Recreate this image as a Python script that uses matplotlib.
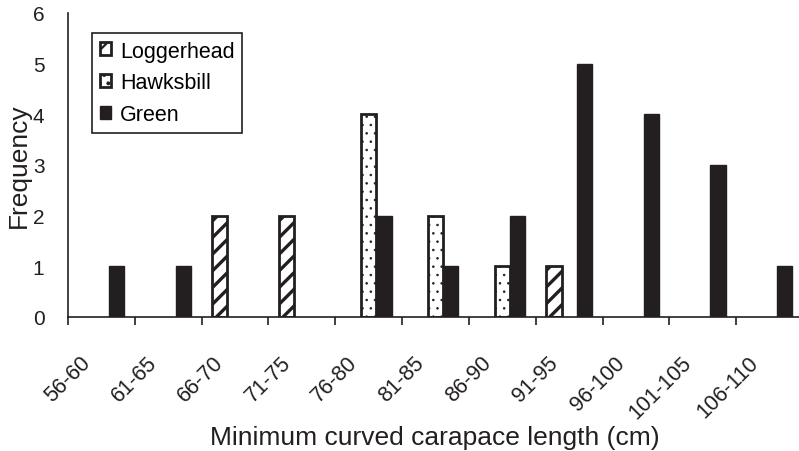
import numpy as np
import matplotlib
matplotlib.use('Agg')
import matplotlib.pyplot as plt
from matplotlib.transforms import ScaledTranslation

plt.rcParams['font.family'] = ['Liberation Sans', 'DejaVu Sans']

categories = ['56-60', '61-65', '66-70', '71-75', '76-80', '81-85',
              '86-90', '91-95', '96-100', '101-105', '106-110']
loggerhead = np.array([0, 0, 2, 2, 0, 0, 0, 1, 0, 0, 0])
hawksbill = np.array([0, 0, 0, 0, 4, 2, 1, 0, 0, 0, 0])
green = np.array([1, 1, 0, 0, 2, 1, 2, 5, 4, 3, 1])

dark = '#231f20'
fig = plt.figure(figsize=(7.99, 4.52), dpi=100)
ax = fig.add_axes([68/799, 1 - 318/452, (803 - 68)/799, (318 - 14)/452])

x = np.arange(len(categories))
w = 0.228

m = loggerhead > 0
with plt.rc_context({'hatch.linewidth': 2.4}):
    ax.bar(x[m] - w, loggerhead[m], w, color='white', edgecolor=dark,
           linewidth=2.0, hatch='//', label='Loggerhead')
m = hawksbill > 0
with plt.rc_context({'hatch.linewidth': 0.6}):
    ax.bar(x[m], hawksbill[m], w, color='white', edgecolor=dark,
           linewidth=2.0, hatch='..', label='Hawksbill')
m = green > 0
ax.bar(x[m] + w, green[m], w, color=dark, edgecolor=dark,
       linewidth=1.0, label='Green')

ax.set_xlim(-0.5, len(categories) - 0.5)
ax.set_ylim(0, 6)
ax.set_yticks(range(7))
ax.tick_params(axis='y', length=0, pad=17, labelsize=15, colors=dark)

# tick marks at category boundaries, labels at category centres
ax.set_xticks(np.arange(len(categories)) - 0.5)
ax.set_xticklabels([])
ax.tick_params(axis='x', which='major', length=6, width=1.2, color=dark)
ax.set_xticks(x, minor=True)
ax.set_xticklabels(categories, minor=True, rotation=45, ha='right',
                   fontsize=15.5, color=dark)
ax.tick_params(axis='x', which='minor', length=0, pad=25)
for lab in ax.get_xticklabels(minor=True):
    lab.set_transform(lab.get_transform() +
                      ScaledTranslation(-7/100, 0, fig.dpi_scale_trans))

for s in ['top', 'right']:
    ax.spines[s].set_visible(False)
for s in ['left', 'bottom']:
    ax.spines[s].set_linewidth(1.2)
    ax.spines[s].set_color(dark)

ax.set_ylabel('Frequency', fontsize=19, labelpad=1, color=dark)
fig.text(435/799, 1 - 438/452, 'Minimum curved carapace length (cm)',
         ha='center', va='center', fontsize=19, color=dark)

with plt.rc_context({'hatch.linewidth': 1.6}):
    leg = ax.legend(loc='upper left', bbox_to_anchor=(92/799, 1 - 34/452),
                    bbox_transform=fig.transFigure, borderaxespad=0,
                    fontsize=15.5, handlelength=0.55, handleheight=0.55,
                    handletextpad=0.4, labelspacing=0.5, borderpad=0.35,
                    fancybox=False, framealpha=1, edgecolor=dark)
leg.get_frame().set_linewidth(1.2)

fig.savefig('out.png', dpi=100)
